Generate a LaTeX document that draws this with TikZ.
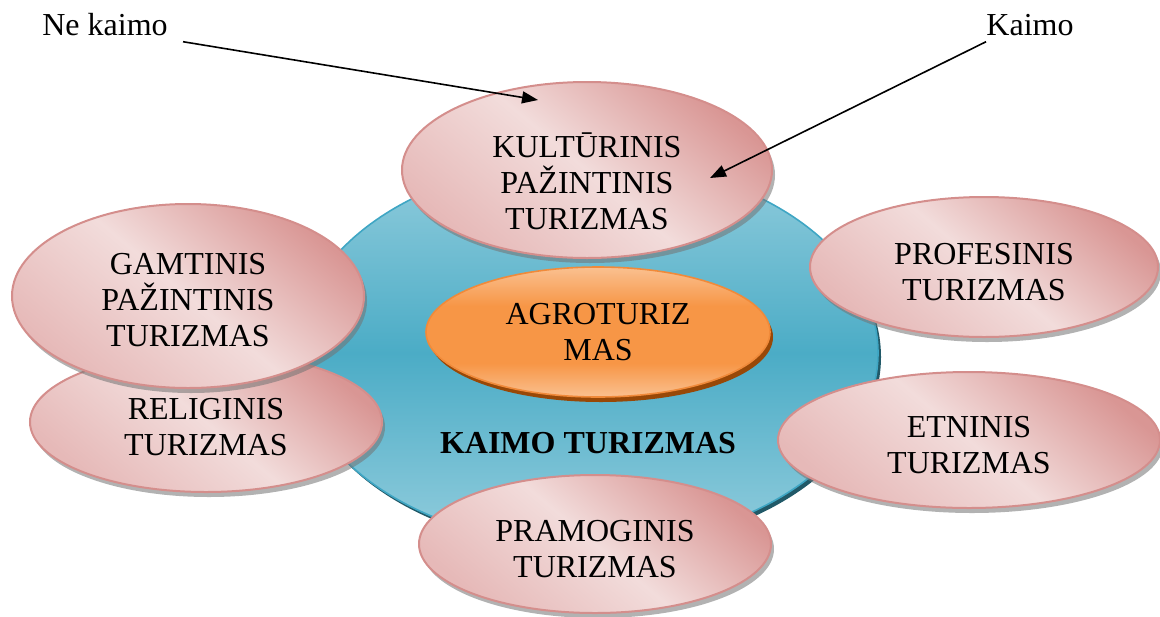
\documentclass[tikz,border=0pt]{standalone}
\usepackage{fontspec}
\setmainfont{Liberation Serif}
\usetikzlibrary{shapes.geometric,shadows,arrows.meta}

\definecolor{pinkD}{HTML}{D99694}
\definecolor{pinkL}{HTML}{F2DCDB}
\definecolor{pinkM}{HTML}{E6B9B8}
\definecolor{pinkLine}{HTML}{D48E8C}
\definecolor{tealL}{HTML}{93CDDD}
\definecolor{tealM}{HTML}{4BACC6}
\definecolor{tealLine}{HTML}{3FA6C4}
\definecolor{tealShadow}{HTML}{215968}
\definecolor{orangeL}{HTML}{FAC090}
\definecolor{orangeM}{HTML}{F79646}
\definecolor{orangeLine}{HTML}{F08A3A}
\definecolor{orangeShadow}{HTML}{984807}

\pgfdeclareverticalshading{rozinis}{100bp}{color(0bp)=(pinkM); color(25bp)=(pinkM); color(50bp)=(pinkL); color(75bp)=(pinkD); color(100bp)=(pinkD)}
\pgfdeclareverticalshading{melynas}{100bp}{color(0bp)=(tealL); color(25bp)=(tealL); color(50bp)=(tealM); color(75bp)=(tealL); color(100bp)=(tealL)}
\pgfdeclareverticalshading{oranzinis}{100bp}{color(0bp)=(orangeL); color(25bp)=(orangeL); color(38bp)=(orangeM); color(60bp)=(orangeM); color(75bp)=(orangeL); color(100bp)=(orangeL)}

\begin{document}
\begin{tikzpicture}[x=0.5pt, y=0.5pt,
    font=\fontsize{16}{18}\selectfont,
    sritis/.style={ellipse, inner sep=0pt, align=center, draw=pinkLine, line width=1pt,
      shading=rozinis, shading angle=-40, text height=34pt,
      drop shadow={shadow xshift=1.5pt, shadow yshift=-2.5pt, fill=black!55, opacity=.55}},
    zyma/.style={inner sep=0pt, inner ysep=3pt},
    rodykle/.style={-{Triangle[length=8pt,width=6pt]}, line width=0.8pt}]
  \useasboundingbox (0,0) rectangle (1160,-616);

  % Kaimo turizmas (fonas)
  \node[ellipse, inner sep=0pt, minimum width=291pt, minimum height=193pt,
        draw=tealLine, line width=0.8pt, shading=melynas,
        drop shadow={shadow xshift=1.5pt, shadow yshift=-2pt, fill=tealShadow, opacity=1}]
        (kaimas) at (587,-353) {};
  \node[anchor=base, font=\fontsize{16}{18}\selectfont\bfseries] (kaimoTxt) at (588,-453) {KAIMO TURIZMAS};

  % Agroturizmas
  \node[ellipse, inner sep=0pt, align=center, minimum width=172pt, minimum height=65pt,
        draw=orangeLine, line width=0.8pt, shading=oranzinis,
        drop shadow={shadow xshift=1.5pt, shadow yshift=-2.5pt, fill=orangeShadow, opacity=1}]
        (agro) at (598,-332) {AGROTURIZ\\MAS};

  % Turizmo rusys
  \node[sritis, minimum width=176pt, minimum height=70pt] (religinis) at (206,-422) {RELIGINIS\\TURIZMAS};
  \node[sritis, minimum width=176pt, minimum height=92pt, text height=51pt] (gamtinis) at (188,-296) {GAMTINIS\\PAŽINTINIS\\TURIZMAS};
  \node[sritis, minimum width=185pt, minimum height=88pt, text height=60pt] (kulturinis) at (587,-170) {KULTŪRINIS\\PAŽINTINIS\\TURIZMAS};
  \node[sritis, minimum width=174pt, minimum height=70pt] (profesinis) at (984,-267) {PROFESINIS\\TURIZMAS};
  \node[sritis, minimum width=191pt, minimum height=68pt] (etninis) at (969,-440) {ETNINIS\\TURIZMAS};
  \node[sritis, minimum width=176pt, minimum height=69pt] (pramoginis) at (595,-544) {PRAMOGINIS\\TURIZMAS};

  % Rodykles
  \node[zyma, anchor=base] (nekaimo) at (105,-35) {Ne kaimo};
  \node[zyma, anchor=base] (kaimo) at (1030,-35) {Kaimo};
  \coordinate (kultA) at (538,-100);
  \coordinate (kultB) at (710,-178);
  \draw[rodykle] ([xshift=7.5pt]nekaimo.south east) -- (kultA);
  \draw[rodykle] (kaimo.south west) -- (kultB);
\end{tikzpicture}
\end{document}
